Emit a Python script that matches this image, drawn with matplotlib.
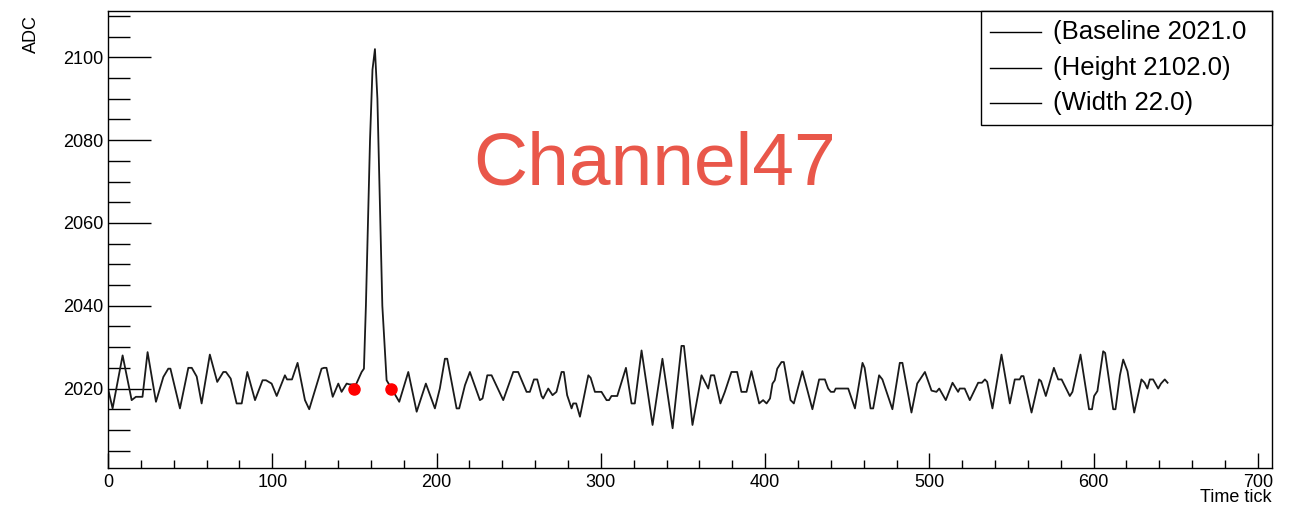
import matplotlib
matplotlib.use("Agg")
import matplotlib.pyplot as plt
from matplotlib.patches import Rectangle
from matplotlib.ticker import MultipleLocator

plt.rcParams["font.family"] = ["Liberation Sans", "DejaVu Sans"]

# waveform turning points (time tick, ADC)
time_tick = [
    0, 2.8, 8.9, 14.4, 17, 21, 24.1, 29.2, 33.7, 36.7, 38, 43.8, 48.9, 51, 54, 57,
    62, 66.5, 70.2, 71.8, 74.7, 78.3, 81.4, 84.8, 89.5, 94.1, 96.2, 99.6, 102.7,
    107.7, 109, 112, 115.4, 119.9, 122.5, 130, 131.5, 133, 136.8, 140.2, 142.2,
    145.3, 147, 151, 154.4, 155.8, 157, 159.5, 161, 162.5, 164, 165.5, 167, 169.6,
    172.6, 177.3, 182.8, 187.9, 193.5, 199, 202, 205.1, 206.5, 212.2, 213.8, 217.3,
    220.3, 226.4, 228, 230.9, 233.5, 240.6, 246.7, 249.7, 254.8, 256.8, 259.3,
    261.3, 263.9, 264.9, 268, 270.6, 273, 276.1, 277.5, 279.5, 282.2, 283.2, 285,
    287.3, 292.4, 293.8, 296.4, 300.4, 303.5, 305, 306.5, 310, 315.3, 318.7, 320.7,
    324.8, 331.5, 337.5, 343.7, 349.1, 350.6, 355.8, 361.3, 365.4, 367, 369, 372.8,
    375.5, 379.5, 383, 385.6, 388.7, 391.7, 396.4, 398.8, 400.9, 403, 404.5, 405.9,
    407.4, 410, 411.4, 415.5, 417.5, 422.7, 428.8, 432.9, 436.4, 438.4, 440, 442,
    443, 450.6, 454.7, 459.3, 460.6, 464.2, 465.8, 469.4, 471.4, 477.5, 482, 483.6,
    489.1, 492.6, 497.3, 501.3, 504.3, 506, 510, 514.1, 517.5, 518.5, 521.5, 524.6,
    529.7, 532, 533.8, 535.2, 538.4, 543.9, 549, 552, 555, 556, 557.3, 562.2, 566.8,
    568, 570.9, 575.8, 578.4, 580.5, 585.5, 587.1, 592, 597.2, 599, 600.3, 602.3,
    605.8, 607, 611.9, 613.3, 616, 618, 620.6, 624.7, 629.1, 631, 632.7, 634.2,
    636.2, 639.3, 641, 643.3, 645,
]
adc = [
    2020, 2015.2, 2028, 2017.2, 2018, 2018, 2028.8, 2016.8, 2022.8, 2024.8, 2024.8,
    2015.2, 2025, 2025, 2022.9, 2016.4, 2028.2, 2021.6, 2024, 2024, 2022.4, 2016.4,
    2016.4, 2024, 2017.2, 2022, 2022, 2021.2, 2018.2, 2023.2, 2022.2, 2022.2,
    2026.2, 2017.2, 2015, 2024.8, 2025, 2025, 2018, 2021.2, 2019.2, 2021.2, 2021,
    2021, 2024, 2024.8, 2040, 2080, 2097, 2102, 2090, 2065, 2040, 2022, 2020,
    2016.8, 2024, 2014.4, 2021.2, 2015.2, 2020, 2027.2, 2027.2, 2015.2, 2015.2,
    2020.8, 2024, 2017.2, 2017.6, 2023.2, 2023.2, 2017.2, 2024, 2024, 2019.2,
    2019.2, 2022.2, 2022.2, 2018.2, 2017.6, 2020, 2018.4, 2019.2, 2024, 2024,
    2018.4, 2015.2, 2016.4, 2016.4, 2013.2, 2023.2, 2022.6, 2019.2, 2019.2, 2017.2,
    2017.2, 2018.2, 2018.2, 2025, 2016.4, 2016.4, 2029.2, 2011.2, 2027.2, 2010.4,
    2030.3, 2030.3, 2011.2, 2023.2, 2020, 2023.2, 2023.2, 2016.4, 2019.2, 2024,
    2024, 2019.2, 2019.2, 2024.2, 2016.4, 2017.2, 2016.4, 2017.6, 2021.2, 2022,
    2024.8, 2026.4, 2026.4, 2017.2, 2016.4, 2024.2, 2015, 2022.2, 2022.2, 2020,
    2019.2, 2019.2, 2020, 2020, 2015.2, 2026.2, 2025, 2015.2, 2015.2, 2023.2,
    2022.2, 2015, 2026.2, 2026.2, 2014.2, 2021.2, 2024, 2019.5, 2019.2, 2020,
    2017.2, 2021.4, 2019.2, 2020, 2020, 2017.2, 2021.4, 2021.4, 2022.2, 2021.6,
    2015.2, 2028.2, 2016.4, 2022.2, 2022.2, 2023, 2023, 2014.2, 2022.2, 2021.8,
    2018.2, 2025, 2022.2, 2022.2, 2018.2, 2019.2, 2028.2, 2015, 2015, 2018.2,
    2019.4, 2029, 2028.6, 2015, 2015, 2023.2, 2027, 2024.2, 2014.2, 2022.2, 2021.4,
    2020, 2022.2, 2022.2, 2020, 2021.2, 2022.2, 2021.4,
]

# pulse edges found at baseline crossing
edge_tick = [150, 172]
edge_adc = [2020, 2020]

legend_labels = ["(Baseline 2021.0", "(Height 2102.0)", "(Width 22.0)"]
channel_name = "Channel47"

fig = plt.figure(figsize=(12.98, 5.11), dpi=100)
ax = fig.add_axes([0.0832, 0.0841, 0.8968, 0.8944])

ax.plot(time_tick, adc, color="#1a1a1a", linewidth=1.3,
        solid_joinstyle="round")
ax.plot(edge_tick, edge_adc, "o", color="red", markersize=8, zorder=3)

ax.set_xlim(0, 708.6)
ax.set_ylim(2000.8, 2111.2)

ax.xaxis.set_major_locator(MultipleLocator(100))
ax.xaxis.set_minor_locator(MultipleLocator(20))
ax.yaxis.set_major_locator(MultipleLocator(20))
ax.yaxis.set_minor_locator(MultipleLocator(5))

ax.tick_params(which="both", direction="in", labelsize=13, width=1.0)
ax.tick_params(axis="y", which="major", length=31, pad=3)
ax.tick_params(axis="y", which="minor", length=15.5)
ax.tick_params(axis="x", which="major", length=11, pad=4)
ax.tick_params(axis="x", which="minor", length=6)
for sp in ax.spines.values():
    sp.set_linewidth(1.0)

fig.text(0.0239, 0.9706, "ADC", rotation=90, ha="center", va="top", fontsize=13)
fig.text(0.98, 0.027, "Time tick", ha="right", va="center", fontsize=13)

fig.text(0.5046, 0.677, channel_name, color="#e9574a", fontsize=54,
         ha="center", va="center")

# legend box, ROOT style
box_left, box_bottom = 0.7558, 0.7554
fig.patches.append(Rectangle((box_left, box_bottom), 0.98 - box_left,
                             0.9785 - box_bottom, transform=fig.transFigure,
                             facecolor="white", edgecolor="black", linewidth=1.0,
                             zorder=5))
row_y = [0.9364, 0.8670, 0.7985]
for y, label in zip(row_y, legend_labels):
    fig.add_artist(plt.Line2D([0.7627, 0.8020], [y, y], color="black",
                              linewidth=1.0, zorder=6))
    fig.text(0.8112, y, label, ha="left", va="center", fontsize=18.5, zorder=6)

fig.savefig("out.png", dpi=100, facecolor="white")
